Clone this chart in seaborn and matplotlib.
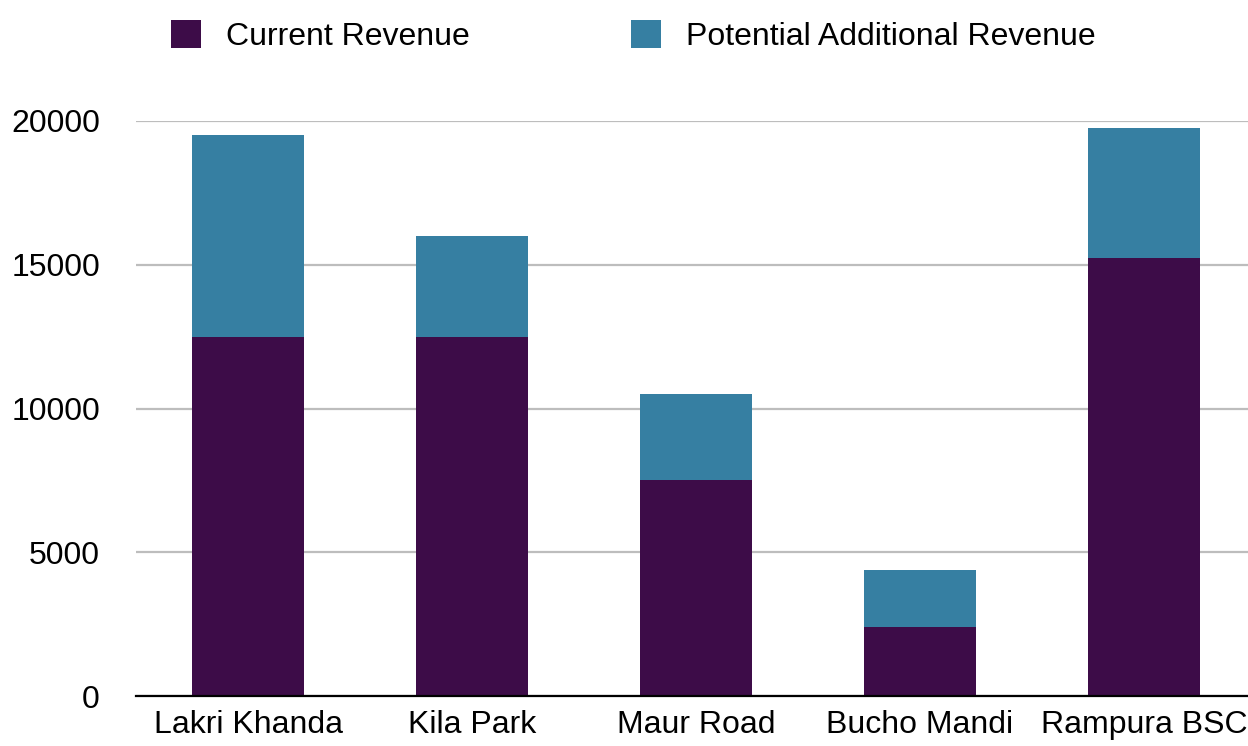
import matplotlib
matplotlib.use("Agg")
import matplotlib.pyplot as plt
import seaborn as sns
import pandas as pd
from matplotlib.patches import Patch

categories = ["Lakri Khanda", "Kila Park", "Maur Road", "Bucho Mandi", "Rampura BSC"]
current_revenue = [12500, 12500, 7500, 2400, 15250]
additional_revenue = [7000, 3500, 3000, 2000, 4500]
series_names = ["Current Revenue", "Potential Additional Revenue"]
yticks = [0, 5000, 10000, 15000, 20000]

PURPLE = "#3D0C48"
TEAL = "#367FA2"

sns.set_theme(style="white")
plt.rcParams['font.family'] = ['Liberation Sans', 'DejaVu Sans']

df = pd.DataFrame({
    "category": categories,
    "current": current_revenue,
    "total": [c + a for c, a in zip(current_revenue, additional_revenue)],
})

fig = plt.figure(figsize=(12.48, 7.46), dpi=100)
ax = fig.add_axes([136/1248, 50/746, 1120/1248, 575/746])

sns.barplot(data=df, x="category", y="total", color=TEAL, width=0.5,
            saturation=1, ax=ax, zorder=3, linewidth=0, edgecolor="none")
sns.barplot(data=df, x="category", y="current", color=PURPLE, width=0.5,
            saturation=1, ax=ax, zorder=3, linewidth=0, edgecolor="none")

ax.set_xlim(-0.5, len(categories) - 0.5)
ax.set_ylim(0, 20000)
ax.set_yticks(yticks)
ax.set_yticklabels([str(v) for v in yticks])
ax.set_xlabel("")
ax.set_ylabel("")
ax.grid(axis="y", color="#BDBDBD", linewidth=1.6, zorder=0)
ax.grid(axis="x", visible=False)
for s in ["left", "right", "top"]:
    ax.spines[s].set_visible(False)
ax.spines["bottom"].set_color("black")
ax.spines["bottom"].set_linewidth(1.6)
ax.spines["bottom"].set_zorder(4)
ax.tick_params(axis="y", length=0, pad=26, labelsize=23, labelcolor="black")
ax.tick_params(axis="x", length=0, pad=10, labelsize=23, labelcolor="black")

handles = [Patch(facecolor=PURPLE, edgecolor="none"), Patch(facecolor=TEAL, edgecolor="none")]
leg = fig.legend(handles, series_names, loc="center left", bbox_to_anchor=(171/1248, 1 - 36/746),
                 ncol=2, frameon=False, fontsize=23, handlelength=0.94, handleheight=0.94,
                 handletextpad=0.78, columnspacing=5.05, borderaxespad=0, borderpad=0)
for t in leg.get_texts():
    t.set_color("black")

fig.savefig("out.png", dpi=100)
